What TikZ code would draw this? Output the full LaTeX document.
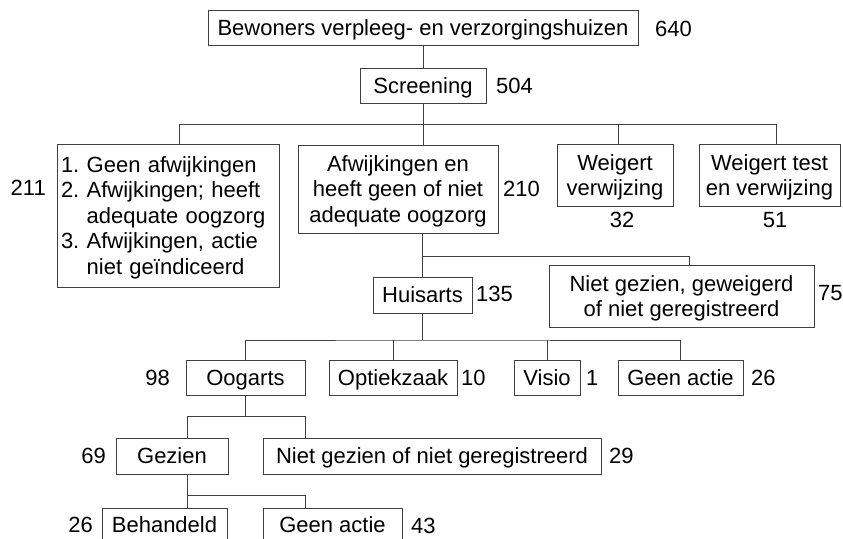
\documentclass[tikz,border=0pt]{standalone}
\usepackage{fontspec}
\setmainfont{Liberation Sans}
\begin{document}
\begin{tikzpicture}[x = 1pt, y = -1pt,
		box/.style = {draw = black!75, line width = 0.9pt, rectangle, inner sep = 0pt, align = center, text height = 15.8pt, text depth = 0pt, font = \fontsize{22}{25.5}\selectfont\frenchspacing},
		two/.style = {text height = 41.3pt},
		three/.style = {text height = 66.8pt},
		num/.style = {inner sep = 0pt, font = \fontsize{22}{25.5}\selectfont},
		link/.style = {draw = black!75, line width = 0.9pt}]
	\useasboundingbox (0, 0) rectangle (843, 538);
	% Nodes
	\node[box, minimum width = 430, minimum height = 35] (top) at (423, 27.5) {Bewoners verpleeg- en verzorgingshuizen};
	\node[box, minimum width = 126, minimum height = 35] (scr) at (423, 85.5) {Screening};
	\node[box, text depth = 102pt, minimum width = 222, minimum height = 143, text width = 214pt, inner xsep = 4pt, align = left] (lst) at (168, 215.5) {1. Geen afwijkingen\\2. Afwijkingen; heeft\\\phantom{2. }adequate oogzorg\\3. Afwijkingen, actie\\\phantom{3. }niet geïndiceerd};
	\node[box, three, minimum width = 200, minimum height = 88] (afw) at (398, 189) {Afwijkingen en\\heeft geen of niet\\adequate oogzorg};
	\node[box, two, minimum width = 116, minimum height = 62] (wv) at (615, 175) {Weigert\\verwijzing};
	\node[box, two, minimum width = 141, minimum height = 62] (wtv) at (769.5, 175) {Weigert test\\en verwijzing};
	\node[box, minimum width = 99, minimum height = 36] (hua) at (422.5, 295) {Huisarts};
	\node[box, two, minimum width = 265, minimum height = 62] (ngg) at (681.5, 296) {Niet gezien, geweigerd\\of niet geregistreerd};
	\node[box, minimum width = 119, minimum height = 35] (oog) at (245.5, 377.5) {Oogarts};
	\node[box, minimum width = 128, minimum height = 35] (opt) at (393, 377.5) {Optiekzaak};
	\node[box, minimum width = 66, minimum height = 35] (vis) at (547, 377.5) {Visio};
	\node[box, minimum width = 125, minimum height = 35] (gea) at (680.5, 377.5) {Geen actie};
	\node[box, minimum width = 112, minimum height = 36] (gez) at (172, 456) {Gezien};
	\node[box, minimum width = 338, minimum height = 36] (ngz) at (432, 456) {Niet gezien of niet geregistreerd};
	\node[box, minimum width = 125, minimum height = 34] (beh) at (164.5, 525) {Behandeld};
	\node[box, minimum width = 139, minimum height = 34] (gen) at (332.5, 525) {Geen actie};
	
	% Numbers
	\node[num, anchor = west] (n640) at (655, 29) {640};
	\node[num, anchor = west] (n504) at (496, 86) {504};
	\node[num, anchor = east] (n211) at (46, 188) {211};
	\node[num, anchor = west] (n210) at (503, 189) {210};
	\node[num] (n32) at (622, 220) {32};
	\node[num] (n51) at (775, 220) {51};
	\node[num, anchor = west] (n135) at (476, 294) {135};
	\node[num, anchor = west] (n75) at (818, 293) {75};
	\node[num, anchor = east] (n98) at (170, 378) {98};
	\node[num, anchor = west] (n10) at (461, 378) {10};
	\node[num, anchor = west] (n1) at (586, 378) {1};
	\node[num, anchor = west] (n26a) at (751, 378) {26};
	\node[num, anchor = east] (n69) at (106, 456) {69};
	\node[num, anchor = west] (n29) at (609, 456) {29};
	\node[num, anchor = east] (n26b) at (93, 525) {26};
	\node[num, anchor = west] (n43) at (411, 526) {43};
	
	% Junctions
	\coordinate (s1a) at (179, 124);
	\coordinate (s1c) at (618, 124);
	\coordinate (s1d) at (776, 124);
	\coordinate (s2) at (689, 256);
	\coordinate (s3) at (424, 340);
	\coordinate (s4l) at (187, 416);
	\coordinate (s4r) at (305, 416);
	\coordinate (s5l) at (187, 495);
	\coordinate (s5r) at (305, 495);
	
	% Edges
	\draw[link] (top) -- (scr);
	\draw[link] (scr.south) -- (scr.south |- afw.north);
	\draw[link] (s1a |- lst.north) -- (s1a) -- (s1d) -- (s1d |- wtv.north);
	\draw[link] (s1c) -- (s1c |- wv.north);
	\draw[link] (hua.north |- afw.south) -- (hua.north);
	\draw[link] (hua.north |- s2) -- (s2) -- (s2 |- ngg.north);
	\draw[link] (hua.south) -- (hua.south |- s3);
	\draw[link] (oog.north) |- (s3) -| (gea.north);
	\draw[link] (opt.north) -- (opt.north |- s3);
	\draw[link] (vis.north) -- (vis.north |- s3);
	\draw[link] (oog.south) -- (oog.south |- s4l);
	\draw[link] (s4l |- gez.north) -- (s4l) -- (s4r) -- (s4r |- ngz.north);
	\draw[link] (s5l |- gez.south) -- (s5l |- beh.north);
	\draw[link] (s5l) -- (s5r) -- (s5r |- gen.north);
\end{tikzpicture}
\end{document}
